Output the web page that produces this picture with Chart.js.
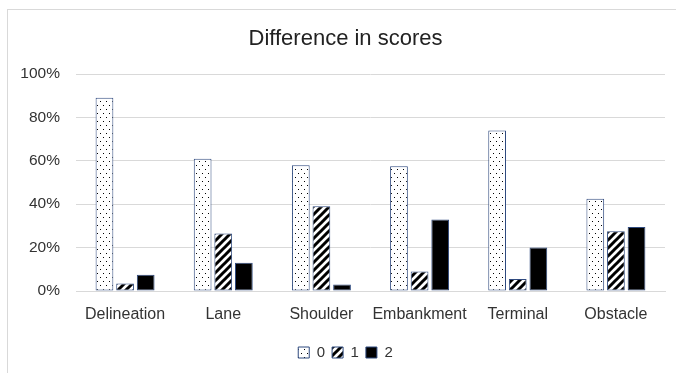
<!DOCTYPE html>
<html>
<head>
<meta charset="utf-8">
<script src="https://cdn.jsdelivr.net/npm/chart.js@4"></script>
<style>
  html, body { margin: 0; padding: 0; background: #fff; }
  #wrap { position: relative; width: 676px; height: 373px; overflow: hidden; }
  #frame { position: absolute; left: 7px; top: 9px; width: 700px; height: 400px; border-left: 1px solid #d9d9d9; border-top: 1px solid #d9d9d9; }
  canvas { position: absolute; left: 0; top: 0; }
</style>
</head>
<body>
<div id="wrap">
  <div id="frame"></div>
  <canvas id="chart" width="676" height="373"></canvas>
</div>
<script>
const categories = ["Delineation", "Lane", "Shoulder", "Embankment", "Terminal", "Obstacle"];
const score0 = [0.89, 0.61, 0.58, 0.575, 0.74, 0.425];
const score1 = [0.035, 0.265, 0.39, 0.09, 0.055, 0.275];
const score2 = [0.075, 0.13, 0.03, 0.33, 0.20, 0.295];
const seriesNames = ["0", "1", "2"];
const yTicks = [0, 0.2, 0.4, 0.6, 0.8, 1.0];

const edge = "#2f4a7f";
const txt = "#333";
const fam = "Liberation Sans";

// dotted fill like Excel's "5%" pattern
function dotPattern() {
    const c = document.createElement("canvas");
    c.width = 6; c.height = 8;
    const g = c.getContext("2d");
    g.fillStyle = "#fff";
    g.fillRect(0, 0, 6, 8);
    g.fillStyle = "#000";
    g.fillRect(1, 1, 1, 1);
    g.fillRect(4, 5, 1, 1);
    return g.createPattern(c, "repeat");
}

// wide upward diagonal
function stripePattern() {
    const s = 8;
    const c = document.createElement("canvas");
    c.width = s; c.height = s;
    const g = c.getContext("2d");
    g.fillStyle = "#fff";
    g.fillRect(0, 0, s, s);
    g.strokeStyle = "#000";
    g.lineWidth = 3;
    g.beginPath();
    g.moveTo(-2, s + 2); g.lineTo(s + 2, -2);
    g.moveTo(-2, 2); g.lineTo(2, -2);
    g.moveTo(s - 2, s + 2); g.lineTo(s + 2, s - 2);
    g.stroke();
    return g.createPattern(c, "repeat");
}

const fills = [dotPattern(), stripePattern(), "#000"];
const values = [score0, score1, score2];

// title and legend are centred a bit right of the canvas middle, like Excel does
const shiftBlocks = {
    id: "shiftBlocks",
    afterLayout(chart) {
        chart.titleBlock.left = 26;
        chart.legend.left = 26;
    }
};

const ctx = document.getElementById("chart").getContext("2d");
new Chart(ctx, {
    type: "bar",
    data: {
        labels: categories,
        datasets: values.map((v, i) => ({
            label: seriesNames[i],
            data: v,
            backgroundColor: fills[i],
            borderColor: edge,
            borderWidth: 1,
            borderSkipped: false,
            barPercentage: 0.86,
            categoryPercentage: 0.63
        }))
    },
    plugins: [shiftBlocks],
    options: {
        responsive: false,
        animation: false,
        layout: { padding: { left: 0, right: 11, top: 0, bottom: 3 } },
        plugins: {
            title: {
                display: true,
                text: "Difference in scores",
                color: "#222",
                font: { family: fam, size: 22, weight: "normal" },
                padding: { top: 26, bottom: 21.6 }
            },
            legend: {
                position: "bottom",
                labels: {
                    color: txt,
                    font: { family: fam, size: 15 },
                    boxWidth: 11,
                    boxHeight: 11,
                    padding: 7
                }
            },
            tooltip: { enabled: false }
        },
        scales: {
            x: {
                afterFit: s => { s.height = 47; },
                grid: { display: false },
                border: { display: true, color: "#d9d9d9" },
                ticks: {
                    color: txt,
                    font: { family: fam, size: 16 },
                    padding: 6,
                    maxRotation: 0
                }
            },
            y: {
                min: 0,
                max: 1,
                afterFit: s => { s.width = 76; },
                afterBuildTicks: s => { s.ticks = yTicks.map(v => ({ value: v })); },
                grid: { color: "#d9d9d9", drawTicks: false },
                border: { display: false },
                ticks: {
                    color: txt,
                    font: { family: fam, size: 15.5 },
                    padding: 16,
                    callback: v => Math.round(v * 100) + "%"
                }
            }
        }
    }
});
</script>
</body>
</html>
